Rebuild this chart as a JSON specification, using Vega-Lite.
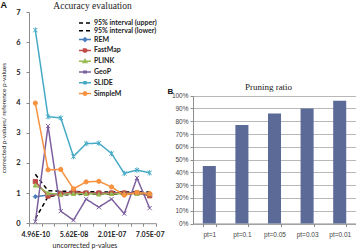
{
  "$schema": "https://vega.github.io/schema/vega-lite/v6.json",
  "autosize": {"type": "pad"},
  "padding": {"left": 0, "top": 0, "right": 0, "bottom": 0},
  "background": "white",
  "config": {
    "view": {"stroke": null},
    "axis": {"domainColor": "#8c8c8c", "tickColor": "#8c8c8c", "tickSize": 3, "domainWidth": 1, "tickWidth": 1}
  },
  "datasets": {
    "accuracy": [
      {"series": "95% interval (upper)", "k": 0, "ratio": 1.62},
      {"series": "95% interval (upper)", "k": 1, "ratio": 1.08},
      {"series": "95% interval (upper)", "k": 2, "ratio": 1.06},
      {"series": "95% interval (upper)", "k": 3, "ratio": 1.05},
      {"series": "95% interval (upper)", "k": 4, "ratio": 1.04},
      {"series": "95% interval (upper)", "k": 5, "ratio": 1.04},
      {"series": "95% interval (upper)", "k": 6, "ratio": 1.03},
      {"series": "95% interval (upper)", "k": 7, "ratio": 1.03},
      {"series": "95% interval (upper)", "k": 8, "ratio": 1.03},
      {"series": "95% interval (upper)", "k": 9, "ratio": 1.03},
      {"series": "95% interval (lower)", "k": 0, "ratio": 0.15},
      {"series": "95% interval (lower)", "k": 1, "ratio": 0.88},
      {"series": "95% interval (lower)", "k": 2, "ratio": 0.94},
      {"series": "95% interval (lower)", "k": 3, "ratio": 0.95},
      {"series": "95% interval (lower)", "k": 4, "ratio": 0.96},
      {"series": "95% interval (lower)", "k": 5, "ratio": 0.96},
      {"series": "95% interval (lower)", "k": 6, "ratio": 0.97},
      {"series": "95% interval (lower)", "k": 7, "ratio": 0.97},
      {"series": "95% interval (lower)", "k": 8, "ratio": 0.97},
      {"series": "95% interval (lower)", "k": 9, "ratio": 0.97},
      {"series": "REM", "k": 0, "ratio": 0.88},
      {"series": "REM", "k": 1, "ratio": 0.93},
      {"series": "REM", "k": 2, "ratio": 1.0},
      {"series": "REM", "k": 3, "ratio": 1.02},
      {"series": "REM", "k": 4, "ratio": 1.0},
      {"series": "REM", "k": 5, "ratio": 1.0},
      {"series": "REM", "k": 6, "ratio": 1.0},
      {"series": "REM", "k": 7, "ratio": 1.0},
      {"series": "REM", "k": 8, "ratio": 1.0},
      {"series": "REM", "k": 9, "ratio": 0.98},
      {"series": "FastMap", "k": 0, "ratio": 1.38},
      {"series": "FastMap", "k": 1, "ratio": 0.9},
      {"series": "FastMap", "k": 2, "ratio": 0.97},
      {"series": "FastMap", "k": 3, "ratio": 1.05},
      {"series": "FastMap", "k": 4, "ratio": 1.0},
      {"series": "FastMap", "k": 5, "ratio": 1.0},
      {"series": "FastMap", "k": 6, "ratio": 1.0},
      {"series": "FastMap", "k": 7, "ratio": 1.0},
      {"series": "FastMap", "k": 8, "ratio": 1.0},
      {"series": "FastMap", "k": 9, "ratio": 0.91},
      {"series": "PLINK", "k": 0, "ratio": 1.26},
      {"series": "PLINK", "k": 1, "ratio": 1.0},
      {"series": "PLINK", "k": 2, "ratio": 0.95},
      {"series": "PLINK", "k": 3, "ratio": 0.98},
      {"series": "PLINK", "k": 4, "ratio": 0.98},
      {"series": "PLINK", "k": 5, "ratio": 0.96},
      {"series": "PLINK", "k": 6, "ratio": 0.98},
      {"series": "PLINK", "k": 7, "ratio": 0.98},
      {"series": "PLINK", "k": 8, "ratio": 0.98},
      {"series": "PLINK", "k": 9, "ratio": 0.97},
      {"series": "GeoP", "k": 0, "ratio": 0.05},
      {"series": "GeoP", "k": 1, "ratio": 3.22},
      {"series": "GeoP", "k": 2, "ratio": 0.4},
      {"series": "GeoP", "k": 3, "ratio": 0.1},
      {"series": "GeoP", "k": 4, "ratio": 0.8},
      {"series": "GeoP", "k": 5, "ratio": 0.53},
      {"series": "GeoP", "k": 6, "ratio": 0.8},
      {"series": "GeoP", "k": 7, "ratio": 0.32},
      {"series": "GeoP", "k": 8, "ratio": 1.5},
      {"series": "GeoP", "k": 9, "ratio": 0.5},
      {"series": "SLIDE", "k": 0, "ratio": 6.4},
      {"series": "SLIDE", "k": 1, "ratio": 3.53},
      {"series": "SLIDE", "k": 2, "ratio": 3.49},
      {"series": "SLIDE", "k": 3, "ratio": 2.21},
      {"series": "SLIDE", "k": 4, "ratio": 2.64},
      {"series": "SLIDE", "k": 5, "ratio": 2.65},
      {"series": "SLIDE", "k": 6, "ratio": 2.31},
      {"series": "SLIDE", "k": 7, "ratio": 1.65},
      {"series": "SLIDE", "k": 8, "ratio": 1.76},
      {"series": "SLIDE", "k": 9, "ratio": 1.67},
      {"series": "SimpleM", "k": 0, "ratio": 3.98},
      {"series": "SimpleM", "k": 1, "ratio": 1.77},
      {"series": "SimpleM", "k": 2, "ratio": 1.78},
      {"series": "SimpleM", "k": 3, "ratio": 1.14},
      {"series": "SimpleM", "k": 4, "ratio": 1.37},
      {"series": "SimpleM", "k": 5, "ratio": 1.39},
      {"series": "SimpleM", "k": 6, "ratio": 1.2},
      {"series": "SimpleM", "k": 7, "ratio": 0.93},
      {"series": "SimpleM", "k": 8, "ratio": 1.02},
      {"series": "SimpleM", "k": 9, "ratio": 0.98}
    ],
    "pruning": [
      {"threshold": "pt=1", "ratio": 0.45},
      {"threshold": "pt=0.1", "ratio": 0.77},
      {"threshold": "pt=0.05", "ratio": 0.86},
      {"threshold": "pt=0.03", "ratio": 0.90},
      {"threshold": "pt=0.01", "ratio": 0.96}
    ]
  },
  "hconcat": [
    {
      "width": 127,
      "height": 211.2,
      "title": {"text": "Accuracy evaluation", "font": "Liberation Serif", "fontSize": 9.5, "fontWeight": "normal", "color": "#222", "offset": -2, "anchor": "middle"},
      "data": {"name": "accuracy"},
      "encoding": {
        "x": {
          "field": "k", "type": "quantitative",
          "scale": {"domain": [-0.5, 9.5], "nice": false, "zero": false},
          "axis": {
            "values": [-0.5, 0, 0.5, 1.5, 2.5, 3, 3.5, 4.5, 5.5, 6, 6.5, 7.5, 8.5, 9, 9.5],
            "labelExpr": "datum.value === 0 ? '4.96E-10' : datum.value === 3 ? '5.62E-08' : datum.value === 6 ? '2.01E-07' : datum.value === 9 ? '7.05E-07' : ''",
            "tickOpacity": {"condition": {"test": "datum.value % 1 === 0", "value": 0}, "value": 1},
            "grid": false, "labelOverlap": false, "labelFlush": false, "labelBound": false,
            "labelFont": "Lato", "labelFontSize": 7, "labelFontWeight": "bold", "labelColor": "#222", "labelPadding": 4,
            "title": "uncorrected p-values", "titleFont": "Lato", "titleFontSize": 7, "titleFontWeight": "normal", "titleColor": "#222", "titlePadding": 4, "titleX": 55.5
          }
        },
        "y": {
          "field": "ratio", "type": "quantitative",
          "scale": {"domain": [0, 7], "nice": false},
          "axis": {
            "values": [0, 1, 2, 3, 4, 5, 6, 7], "grid": false,
            "labelFont": "Lato", "labelFontSize": 7.5, "labelFontWeight": "bold", "labelColor": "#222", "labelPadding": 6,
            "title": "corrected p-values/ reference p-values", "titleFont": "Lato", "titleFontSize": 6.5, "titleFontWeight": "normal", "titleColor": "#222", "titlePadding": 9
          }
        }
      },
      "layer": [
        {
          "mark": {"type": "line", "strokeWidth": 1.5},
          "encoding": {
            "color": {
              "field": "series", "type": "nominal",
              "scale": {
                "domain": ["95% interval (upper)", "95% interval (lower)", "REM", "FastMap", "PLINK", "GeoP", "SLIDE", "SimpleM"],
                "range": ["#000000", "#000000", "#4a7ebb", "#be4b48", "#98b954", "#7d60a0", "#46aac5", "#f69240"]
              },
              "legend": {
                "title": null, "orient": "none", "legendX": 52, "legendY": 7, "direction": "vertical", "padding": 0,
                "symbolSize": 36, "symbolStrokeWidth": 1.5, "rowPadding": 0.8, "labelOffset": 5,
                "labelFont": "Lato", "labelFontSize": 7, "labelFontWeight": "bold", "labelColor": "#222",
                "encode": {
                  "symbols": {
                    "update": {
                      "shape": {"signal": "datum.value === 'REM' ? 'M-2,0H2M0,-0.6L0.6,0L0,0.6L-0.6,0Z' : datum.value === 'FastMap' ? 'M-2,0H2M-0.5,-0.5H0.5V0.5H-0.5Z' : datum.value === 'PLINK' ? 'M-2,0H2M0,-0.6L0.6,0.45L-0.6,0.45Z' : datum.value === 'GeoP' ? 'M-2,0H2M-0.5,-0.5L0.5,0.5M-0.5,0.5L0.5,-0.5' : datum.value === 'SLIDE' ? 'M-2,0H2M-0.5,-0.5L0.5,0.5M-0.5,0.5L0.5,-0.5M0,-0.6V0.6' : datum.value === 'SimpleM' ? 'M-2,0H2M0.55,0A0.55,0.55,0,1,1,-0.55,0A0.55,0.55,0,1,1,0.55,0Z' : 'M-2,0H2'"},
                      "fill": {"signal": "datum.value === 'REM' ? '#4a7ebb' : datum.value === 'FastMap' ? '#be4b48' : datum.value === 'PLINK' ? '#98b954' : datum.value === 'SimpleM' ? '#f69240' : 'transparent'"}
                    }
                  }
                }
              }
            },
            "strokeDash": {
              "field": "series", "type": "nominal",
              "scale": {
                "domain": ["95% interval (upper)", "95% interval (lower)", "REM", "FastMap", "PLINK", "GeoP", "SLIDE", "SimpleM"],
                "range": [[4, 3], [4, 3], [1, 0], [1, 0], [1, 0], [1, 0], [1, 0], [1, 0]]
              },
              "legend": {"title": null}
            }
          }
        },
        {
          "transform": [{"filter": "indexof(['95% interval (upper)', '95% interval (lower)'], datum.series) < 0"}],
          "mark": {"type": "point", "filled": true, "size": 18, "strokeWidth": 1, "opacity": 1},
          "encoding": {
            "shape": {
              "field": "series", "type": "nominal",
              "scale": {
                "domain": ["REM", "FastMap", "PLINK", "GeoP", "SLIDE", "SimpleM"],
                "range": ["diamond", "square", "triangle-up", "M-1,-1L1,1M-1,1L1,-1", "M-1,-1L1,1M-1,1L1,-1M0,-1.3V1.3", "circle"]
              },
              "legend": null
            },
            "fill": {
              "field": "series", "type": "nominal",
              "scale": {"domain": ["REM", "FastMap", "PLINK", "GeoP", "SLIDE", "SimpleM"], "range": ["#4a7ebb", "#be4b48", "#98b954", "#7d60a0", "#46aac5", "#f69240"]},
              "legend": null
            },
            "stroke": {
              "field": "series", "type": "nominal",
              "scale": {"domain": ["REM", "FastMap", "PLINK", "GeoP", "SLIDE", "SimpleM"], "range": ["#4a7ebb", "#be4b48", "#98b954", "#7d60a0", "#46aac5", "#f69240"]},
              "legend": null
            }
          }
        }
      ],
      "resolve": {"scale": {"shape": "independent", "fill": "independent", "stroke": "independent"}}
    },
    {
      "width": 163,
      "height": 211.5,
      "title": {"text": "Pruning ratio", "font": "Liberation Serif", "fontSize": 9, "fontWeight": "normal", "color": "#222", "anchor": "middle", "dx": -6, "dy": 96},
      "data": {"name": "pruning"},
      "mark": {"type": "bar", "color": "#5b6a97"},
      "encoding": {
        "x": {
          "field": "threshold", "type": "nominal", "sort": null,
          "scale": {"paddingInner": 0.6, "paddingOuter": 0.3},
          "axis": {
            "labelAngle": 0, "tickBand": "extent",
            "labelFont": "Liberation Sans", "labelFontSize": 6.5, "labelColor": "#444", "labelPadding": 5,
            "title": "A", "titleAngle": 0, "titleAlign": "left", "titleBaseline": "top", "titleX": -193, "titleY": -223.3,
            "titleFont": "Liberation Sans", "titleFontWeight": "bold", "titleFontSize": 9, "titleColor": "#111"
          }
        },
        "y": {
          "field": "ratio", "type": "quantitative",
          "scale": {"domain": [0, 1], "range": [211.5, 83.7], "nice": false},
          "axis": {
            "values": [0, 0.1, 0.2, 0.3, 0.4, 0.5, 0.6, 0.7, 0.8, 0.9, 1], "format": ".0%",
            "grid": true, "gridColor": "#a6a6a6", "gridWidth": 0.8,
            "labelFont": "Liberation Sans", "labelFontSize": 6.5, "labelColor": "#444", "labelPadding": 2,
            "title": "B", "titleAngle": 0, "titleAlign": "left", "titleBaseline": "alphabetic", "titleX": -26, "titleY": 81,
            "titleFont": "Liberation Sans", "titleFontWeight": "bold", "titleFontSize": 8, "titleColor": "#111"
          }
        }
      }
    }
  ],
  "spacing": 37,
  "bounds": "flush"
}
